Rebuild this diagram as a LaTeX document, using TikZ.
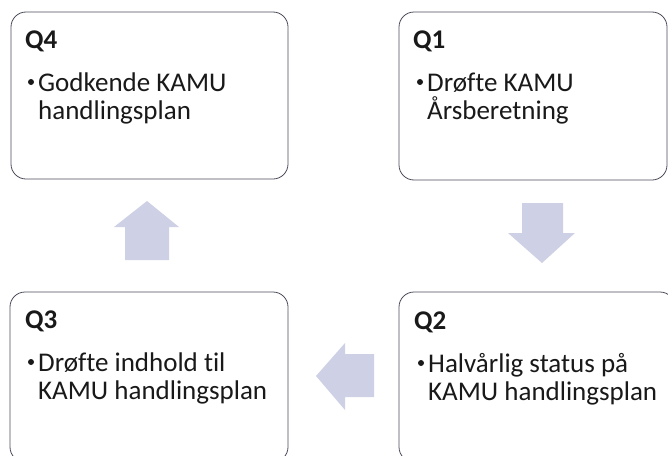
\documentclass[tikz,border=0pt]{standalone}
\usepackage{fontspec}
\setmainfont{Carlito}[Ligatures={NoCommon,NoRare}]
\definecolor{boxline}{RGB}{75,76,90}
\definecolor{arrowfill}{RGB}{206,209,229}
\definecolor{txt}{RGB}{25,25,25}
\tikzset{
  qbox/.style={draw=boxline, line width=0.8pt, rounded corners=15pt, fill=white},
  qhead/.style={anchor=base west, inner sep=0pt, text=txt, font=\fontsize{27}{28}\selectfont\bfseries},
  qtext/.style={anchor=base west, inner sep=0pt, text=txt, font=\fontsize{27}{28}\selectfont},
  qbullet/.style={circle, fill=txt, inner sep=0pt, minimum size=6pt},
  blockarrow/.style={fill=arrowfill, draw=none}
}
\begin{document}
\begin{tikzpicture}[x=1pt,y=-1pt]
\useasboundingbox (0,0) rectangle (668,455);
\clip (0,0) rectangle (668,455);
% boxes
\draw[qbox] (11,12) rectangle (288,179);
\draw[qbox] (399,12) rectangle (667,180);
\draw[qbox] (10,292) rectangle (288,462);
\draw[qbox] (399,292) rectangle (675,462);
% Q4
\node[qhead] (q4h) at (25,48) {Q4};
\node[qbullet] (q4b) at (31,82) {};
\node[qtext] (q4l1) at (38,91) {Godkende KAMU};
\node[qtext] (q4l2) at (38,119) {handlingsplan};
% Q1
\node[qhead] (q1h) at (413,48) {Q1};
\node[qbullet] (q1b) at (420,82) {};
\node[qtext] (q1l1) at (427,91) {Drøfte KAMU};
\node[qtext] (q1l2) at (427,119) {Årsberetning};
% Q3
\node[qhead] (q3h) at (25,328) {Q3};
\node[qbullet] (q3b) at (31,362) {};
\node[qtext] (q3l1) at (38,371) {Drøfte indhold til};
\node[qtext] (q3l2) at (38,399) {KAMU handlingsplan};
% Q2
\node[qhead] (q2h) at (414,329) {Q2};
\node[qbullet] (q2b) at (421,363) {};
\node[qtext] (q2l1) at (428,372) {Halvårlig status på};
\node[qtext] (q2l2) at (428,400) {KAMU handlingsplan};
% arrows
\fill[blockarrow] (147,201) -- (179,227) -- (169,227) -- (169,260) -- (125,260) -- (125,227) -- (114,227) -- cycle;
\fill[blockarrow] (542,263) -- (575,233) -- (563,233) -- (563,203) -- (522,203) -- (522,233) -- (508,233) -- cycle;
\fill[blockarrow] (316,376) -- (345,343) -- (345,354) -- (374,354) -- (374,397) -- (345,397) -- (345,410) -- cycle;
\end{tikzpicture}
\end{document}
